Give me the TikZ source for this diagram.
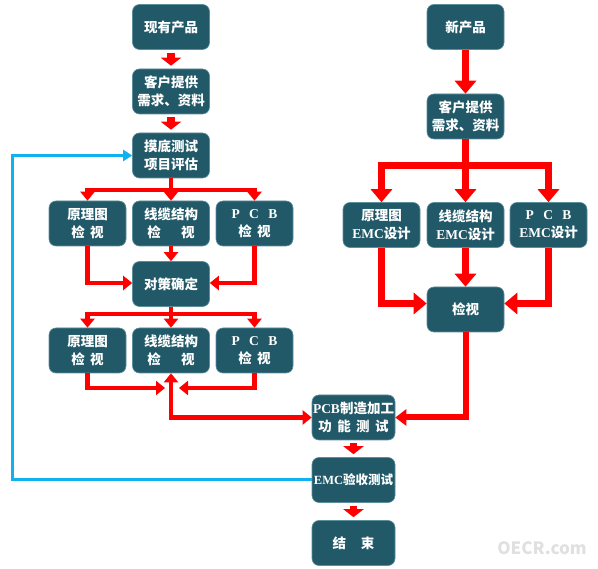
\documentclass[tikz,border=0pt]{standalone}
\usepackage{fontspec}
\setmainfont{Noto Sans CJK SC}
\newfontfamily\latf{Liberation Serif}
\usetikzlibrary{arrows.meta,calc}
\definecolor{boxc}{HTML}{215968}
\definecolor{boxb}{HTML}{5B8E9B}
\definecolor{redc}{HTML}{FF0000}
\definecolor{bluec}{HTML}{0FB2EE}
\newcommand{\hsp}[1]{\hspace{#1em}}
\newcommand{\lt}[1]{{\latf\bfseries\fontsize{13.5pt}{18pt}\selectfont #1}}
\tikzset{
  box/.style={rectangle, rounded corners=7pt, fill=boxc, draw=boxb, line width=0.6pt,
    minimum width=77pt, minimum height=45pt, inner sep=0pt, align=center,
    text=white, font=\fontsize{13.5pt}{18pt}\selectfont\bfseries},
  lt/.style={draw=redc, line width=4.5pt, -{Triangle[width=14pt,length=9pt]}},
  lline/.style={draw=redc, line width=4.5pt},
  rt/.style={draw=redc, line width=7pt, -{Triangle[width=21pt,length=13pt]}},
  rline/.style={draw=redc, line width=7pt},
  blk/.style={draw=redc, line width=7.5pt, -{Triangle[width=20pt,length=8pt]}, shorten <=3pt, shorten >=3pt},
  bl/.style={draw=bluec, line width=3pt, -{Triangle[width=11pt,length=9pt]}},
}
\begin{document}
\begin{tikzpicture}[x=1pt,y=-1pt]
\useasboundingbox (0,0) rectangle (598,569);
% left column
\node[box] (xc) at (171,27) {现有产品};
\node[box] (kl) at (171,91.5) {客户提供\\需求、资料};
\node[box] (md) at (171,155.5) {摸底测试\\项目评估};
\node[box] (a1) at (87.5,223.5) {原理图\\检\hsp{0.4}视};
\node[box] (a2) at (171,223.5) {线缆结构\\检\hsp{1.5}视};
\node[box] (a3) at (254.5,223.5) {\lt{P\hsp{0.7}C\hsp{0.7}B}\\检\hsp{0.4}视};
\node[box] (dc) at (171,284) {对策确定};
\node[box] (b1) at (87.5,350.5) {原理图\\检\hsp{0.4}视};
\node[box] (b2) at (171,350.5) {线缆结构\\检\hsp{1.5}视};
\node[box] (b3) at (254.5,350.5) {\lt{P\hsp{0.7}C\hsp{0.7}B}\\检\hsp{0.4}视};
% right column
\node[box] (xn) at (465.5,27) {新产品};
\node[box] (kr) at (465.5,116.5) {客户提供\\需求、资料};
\node[box] (r1) at (381.5,225) {原理图\\\lt{EMC}设计};
\node[box] (r2) at (465.5,225) {线缆结构\\\lt{EMC}设计};
\node[box] (r3) at (548.5,225) {\lt{P\hsp{0.7}C\hsp{0.7}B}\\\lt{EMC}设计};
\node[box] (jv) at (465.5,309.5) {检视};
% bottom
\node[box, minimum width=83pt] (pc) at (353.5,417.5) {\lt{PCB}制造加工\\功\hsp{0.4}能\hsp{0.4}测\hsp{0.4}试};
\node[box, minimum width=83pt, font=\fontsize{12.5pt}{18pt}\selectfont\bfseries] (em) at (353.5,480) {{\latf\bfseries\fontsize{12.5pt}{18pt}\selectfont EMC}验收测试};
\node[box, minimum width=83pt] (js) at (353.5,543) {结\hsp{1.1}束};
% coordinates
\coordinate (jA) at (171,190);
\coordinate (jB) at (171,314);
\coordinate (m1) at (165,388);
\coordinate (m3) at (179,388);
\coordinate (jR) at (465.5,166);
\coordinate (bc) at (12,155.5);
% left connectors
\draw[blk] (xc.south) -- (kl.north);
\draw[blk] (kl.south) -- (md.north);
\draw[lline] (md.south) -- (jA);
\draw[lt] (jA) -| (a1.north);
\draw[lt] (jA) -| (a3.north);
\draw[lt] (jA) -- (a2.north);
\draw[lt] (a1.south) |- ($(dc.west)+(0,-1)$);
\draw[lt] (a3.south) |- ($(dc.east)+(0,-1)$);
\draw[lt] (a2.south) -- (dc.north);
\draw[lline] (dc.south) -- (jB);
\draw[lt] (jB) -| (b1.north);
\draw[lt] (jB) -| (b3.north);
\draw[lt] (jB) -- (b2.north);
\draw[lt] (b1.south) |- (m1);
\draw[lt] (b3.south) |- (m3);
\draw[draw=redc, line width=4.5pt, {Triangle[width=14pt,length=9pt]}-{Triangle[width=14pt,length=9pt]}] (b2.south) |- (pc.west);
% right connectors
\draw[rt] (xn.south) -- (kr.north);
\draw[rline] (kr.south) -- (jR);
\draw[rt] (jR) -| (r1.north);
\draw[rt] (jR) -| (r3.north);
\draw[rt] (jR) -- (r2.north);
\draw[rt] (r1.south) |- ($(jv.west)+(0,-6)$);
\draw[rt] (r3.south) |- ($(jv.east)+(0,-6)$);
\draw[rt] (r2.south) -- (jv.north);
\draw[draw=redc, line width=6pt, -{Triangle[width=16pt,length=11pt]}] (jv.south) |- (pc.east);
% bottom
\draw[blk] (pc.south) -- (em.north);
\draw[blk] (em.south) -- (js.north);
\draw[bl] (em.west) -| (bc) -- (md.west);
% watermark
\node[font=\fontsize{17pt}{17pt}\selectfont\bfseries, text=black!12, anchor=center] (wm) at (542,548) {OECR.com};
\end{tikzpicture}
\end{document}
